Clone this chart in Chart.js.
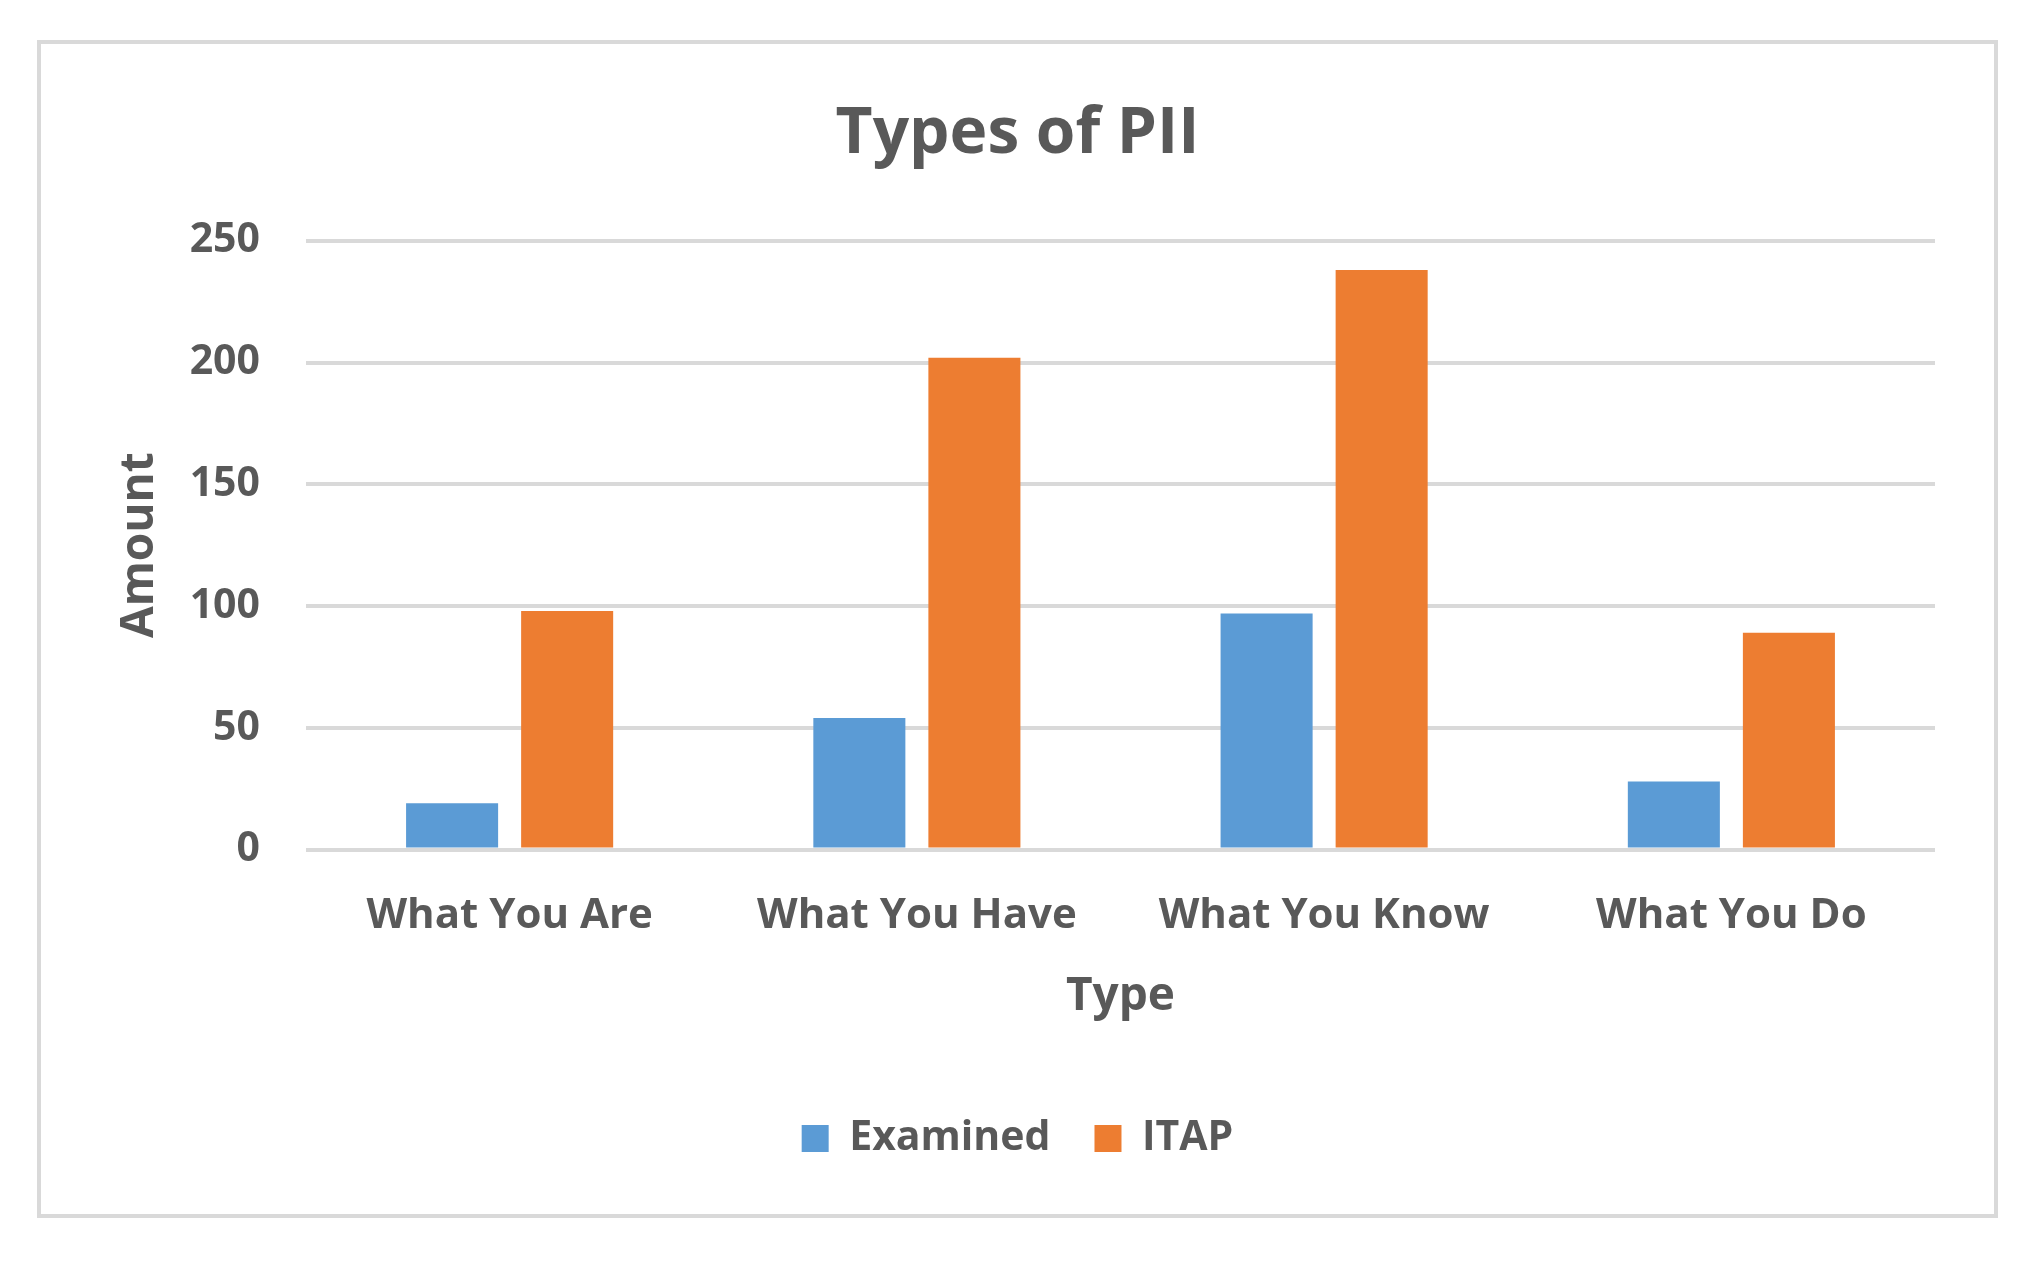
<!DOCTYPE html>
<html>
<head>
<meta charset="utf-8">
<title>Types of PII</title>
<script src="https://cdn.jsdelivr.net/npm/chart.js@4.4.0/dist/chart.umd.min.js"></script>
<style>
  html, body { margin: 0; padding: 0; background: #ffffff; }
  #frame {
    position: absolute; left: 37px; top: 40px;
    width: 1961px; height: 1178px;
    box-sizing: border-box; border: 4px solid #d9d9d9;
  }
  #chart { position: absolute; left: 0; top: 0; }
</style>
</head>
<body>
<div id="frame"></div>
<canvas id="chart" width="2037" height="1262"></canvas>
<script>
// Données
const categories = ["What You Are", "What You Have", "What You Know", "What You Do"];
const examinedValues = [19, 54, 97, 28];
const itapValues = [98, 202, 238, 89];
const yTicks = [0, 50, 100, 150, 200, 250];

const textColor = "#595959";
const gridColor = "#d9d9d9";
const fontFamily = "'Open Sans', 'Liberation Sans', sans-serif";

const ctx = document.getElementById("chart").getContext("2d");

new Chart(ctx, {
  type: 'bar',
  data: {
    labels: categories,
    datasets: [
      {
        label: 'Examined',
        data: examinedValues,
        backgroundColor: '#5b9bd5',
        borderWidth: 0
      },
      {
        label: 'ITAP',
        data: itapValues,
        backgroundColor: '#ed7d31',
        borderWidth: 0
      }
    ]
  },
  options: {
    responsive: false,
    devicePixelRatio: 1,
    animation: false,
    categoryPercentage: 0.565,
    barPercentage: 0.8,
    layout: {
      padding: { left: 100, right: 102, top: 0, bottom: 93 }
    },
    plugins: {
      tooltip: { enabled: false },
      title: {
        display: true,
        text: 'Types of PII',
        color: textColor,
        font: { family: fontFamily, size: 64, weight: 'bold' },
        padding: { top: 96, bottom: 68 }
      },
      legend: {
        position: 'bottom',
        labels: {
          color: textColor,
          font: { family: fontFamily, size: 41, weight: 'bold' },
          boxWidth: 27,
          boxHeight: 27,
          padding: 44
        }
      }
    },
    scales: {
      x: {
        grid: { display: false },
        border: { display: false },
        ticks: {
          color: textColor,
          font: { family: fontFamily, size: 42, weight: 'bold' },
          padding: 33,
          maxRotation: 0
        },
        title: {
          display: true,
          text: 'Type',
          color: textColor,
          font: { family: fontFamily, size: 46, weight: 'bold', lineHeight: 1 },
          padding: { top: 0, bottom: 54 }
        }
      },
      y: {
        min: 0,
        max: 250,
        afterBuildTicks: function (scale) {
          scale.ticks = yTicks.map(v => ({ value: v }));
        },
        afterFit: function (scale) {
          scale.width = 206;
        },
        grid: {
          color: gridColor,
          lineWidth: 4,
          drawTicks: false
        },
        border: { display: false },
        ticks: {
          color: textColor,
          font: { family: fontFamily, size: 41, weight: 'bold' },
          padding: 46
        },
        title: {
          display: true,
          text: 'Amount',
          color: textColor,
          font: { family: fontFamily, size: 46, weight: 'bold' },
          padding: { top: 12, bottom: 0 }
        }
      }
    }
  }
});
</script>
</body>
</html>
